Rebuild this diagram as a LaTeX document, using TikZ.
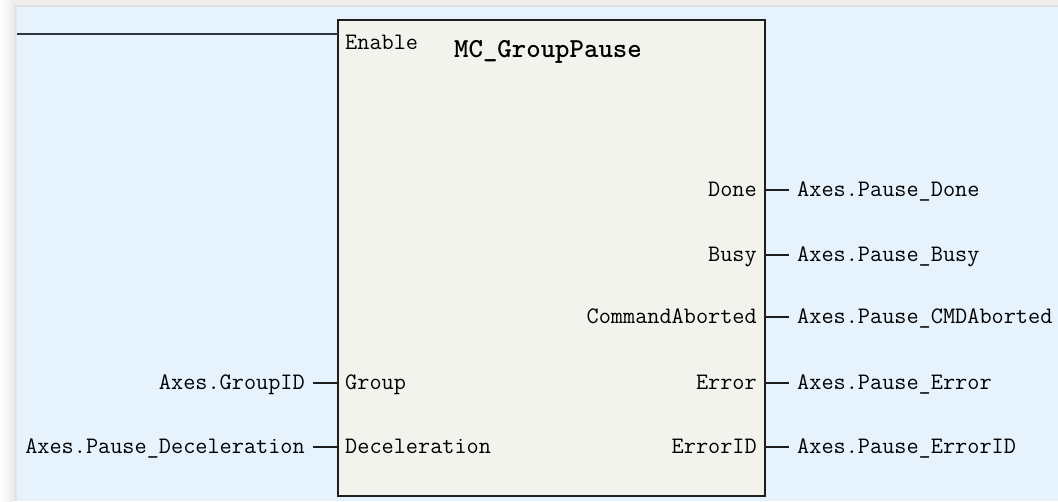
\documentclass[tikz,border=0pt]{standalone}
\usepackage{fontspec}
\newfontfamily\plc{Latin Modern Mono}
\newfontfamily\plctitle{lmmonolt10-bold.otf}
\definecolor{outerbg}{HTML}{EEEEEE}
\definecolor{bluebg}{HTML}{E6F3FD}
\definecolor{boxfill}{HTML}{F3F3EE}
\definecolor{edge}{HTML}{1E1E1E}
\definecolor{wire}{HTML}{2B3440}
\tikzset{
  lbl/.style={inner sep=0pt, text height=14pt, text depth=2pt, font=\plc\fontsize{23.6}{24}\selectfont, text=black},
  stub/.style={draw=edge, line width=1.5pt},
  fblock/.style={draw=edge, line width=2pt, fill=boxfill, rectangle, minimum width=427pt, minimum height=476pt, inner sep=0pt}
}
\begin{document}
\begin{tikzpicture}[x=1pt,y=-1pt]
\useasboundingbox (0,0) rectangle (1058,501);
% background
\fill[outerbg] (0,0) rectangle (1058,501);
\shade[left color=white, right color=outerbg] (0,0) rectangle (12,501);
\fill[black!12] (14,5) rectangle (1058,7);
\fill[black!10] (14,7) rectangle (17,501);
\fill[bluebg] (17,7) rectangle (1058,501);
% function block
\node[fblock] (box) at (551.5,258) {};
\node[font=\plctitle\fontsize{27.5}{28}\selectfont, inner sep=0pt] (title) at (548,52) {MC\_GroupPause};
% enable
\coordinate (rail) at (17,34);
\coordinate (pEn) at (338,34);
\draw[wire, line width=2pt] (rail) -- (pEn);
\node[lbl, anchor=west] (iEn) at (345,43) {Enable};
% inputs
\coordinate (pGroup) at (338,383);
\coordinate (pDec) at (338,447);
\node[lbl, anchor=west] (iGroup) at (345,383) {Group};
\node[lbl, anchor=west] (iDec) at (345,447) {Deceleration};
\node[lbl, anchor=east] (vGroup) at (305,383) {Axes.GroupID};
\node[lbl, anchor=east] (vDec) at (305,447) {Axes.Pause\_Deceleration};
\draw[stub] ([xshift=8pt]vGroup.east) -- (pGroup);
\draw[stub] ([xshift=8pt]vDec.east) -- (pDec);
% outputs
\foreach \n/\y/\a/\b in {Done/190/Done/Axes.Pause\_Done,
                         Busy/255/Busy/Axes.Pause\_Busy,
                         Cmd/317/CommandAborted/Axes.Pause\_CMDAborted,
                         Err/383/Error/Axes.Pause\_Error,
                         ErrID/447/ErrorID/Axes.Pause\_ErrorID}{
  \coordinate (p\n) at (765,\y);
  \node[lbl, anchor=east] (o\n) at (757,\y) {\a};
  \node[lbl, anchor=west] (v\n) at (797,\y) {\b};
  \draw[stub] (p\n) -- ([xshift=-8pt]v\n.west);
}
\end{tikzpicture}
\end{document}
